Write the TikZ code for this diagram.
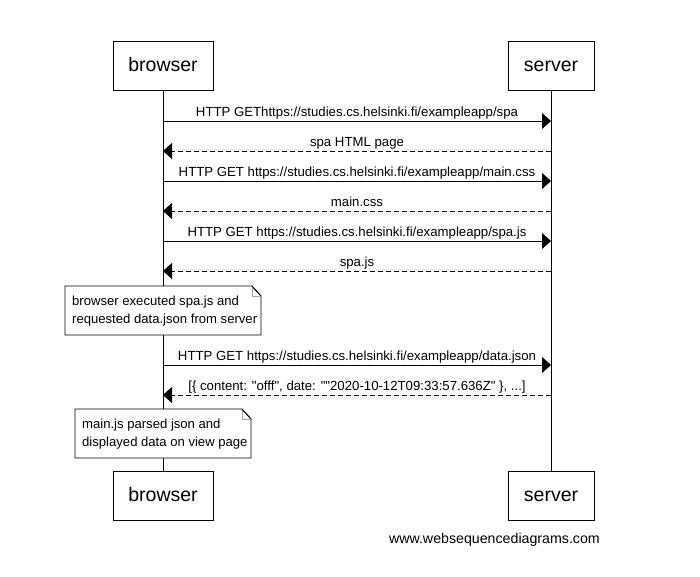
\documentclass[tikz,border=0pt]{standalone}
\usepackage{fontspec}
\setmainfont{Liberation Sans}
\usetikzlibrary{arrows.meta}
\begin{document}
\begin{tikzpicture}[x=1pt,y=-1pt,
  actor/.style={draw,line width=0.8pt,minimum width=#1,minimum height=49pt,inner sep=0pt,
    text height=14pt,text depth=4pt,font=\fontsize{19.5}{24}\selectfont},
  life/.style={line width=0.8pt},
  call/.style={line width=0.8pt,-{Triangle[length=9pt,width=16pt]}},
  reply/.style={call,dash pattern=on 5pt off 3pt},
  msg/.style={anchor=base,inner sep=0pt,font=\fontsize{13.2}{15}\selectfont},
  notetext/.style={anchor=west,inner sep=0pt,align=left,font=\fontsize{13.1}{18}\selectfont},
  notebox/.style={draw,line width=0.8pt,fill=white},
  fold/.style={draw=gray!70,line width=0.6pt}]
\useasboundingbox (0,0) rectangle (700,576);

% participants
\node[actor=100pt] (bt) at (163,66) {browser};
\node[actor=86pt]  (st) at (551,66) {server};
\node[actor=100pt] (bb) at (163,496) {browser};
\node[actor=86pt]  (sb) at (551,496) {server};
\draw[life] (bt) -- (bb);
\draw[life] (st) -- (sb);

% messages
\coordinate (b1) at (163,121); \coordinate (s1) at (551,121);
\coordinate (b2) at (163,151); \coordinate (s2) at (551,151);
\coordinate (b3) at (163,181); \coordinate (s3) at (551,181);
\coordinate (b4) at (163,211); \coordinate (s4) at (551,211);
\coordinate (b5) at (163,241); \coordinate (s5) at (551,241);
\coordinate (b6) at (163,271); \coordinate (s6) at (551,271);
\coordinate (b7) at (163,365); \coordinate (s7) at (551,365);
\coordinate (b8) at (163,395); \coordinate (s8) at (551,395);

\draw[call]  (b1) -- (s1) node[msg,pos=0.5,yshift=5pt] (m1) {HTTP GEThttps://studies.cs.helsinki.fi/exampleapp/spa};
\draw[reply] (s2) -- (b2) node[msg,pos=0.5,yshift=5pt] (m2) {spa HTML page};
\draw[call]  (b3) -- (s3) node[msg,pos=0.5,yshift=5pt] (m3) {HTTP GET https://studies.cs.helsinki.fi/exampleapp/main.css};
\draw[reply] (s4) -- (b4) node[msg,pos=0.5,yshift=5pt] (m4) {main.css};
\draw[call]  (b5) -- (s5) node[msg,pos=0.5,yshift=5pt] (m5) {HTTP GET https://studies.cs.helsinki.fi/exampleapp/spa.js};
\draw[reply] (s6) -- (b6) node[msg,pos=0.5,yshift=5pt] (m6) {spa.js};
\draw[call]  (b7) -- (s7) node[msg,pos=0.5,yshift=5pt] (m7) {HTTP GET https://studies.cs.helsinki.fi/exampleapp/data.json};
\draw[reply] (s8) -- (b8) node[msg,pos=0.5,yshift=5pt] (m8) {[\{ content: \textquotedbl offf\textquotedbl, date: \textquotedbl\textquotedbl 2020-10-12T09:33:57.636Z\textquotedbl{} \}, ...]};

% notes
\path[notebox] (65,286) -- (252,286) -- (261,296) -- (261,335) -- (65,335) -- cycle;
\path[fold] (252,286) -- (252,296) -- (261,296);
\draw[line width=0.8pt] (252,286) -- (261,296);
\node[notetext] (n1) at (72,311) {browser executed spa.js and\\requested data.json from server};

\path[notebox] (75,409) -- (242,409) -- (251,419) -- (251,458) -- (75,458) -- cycle;
\path[fold] (242,409) -- (242,419) -- (251,419);
\draw[line width=0.8pt] (242,409) -- (251,419);
\node[notetext] (n2) at (82,434) {main.js parsed json and\\displayed data on view page};

% footer
\node[anchor=east,inner sep=0pt,font=\fontsize{14.2}{17}\selectfont] (wm) at (600,540) {www.websequencediagrams.com};
\end{tikzpicture}
\end{document}
